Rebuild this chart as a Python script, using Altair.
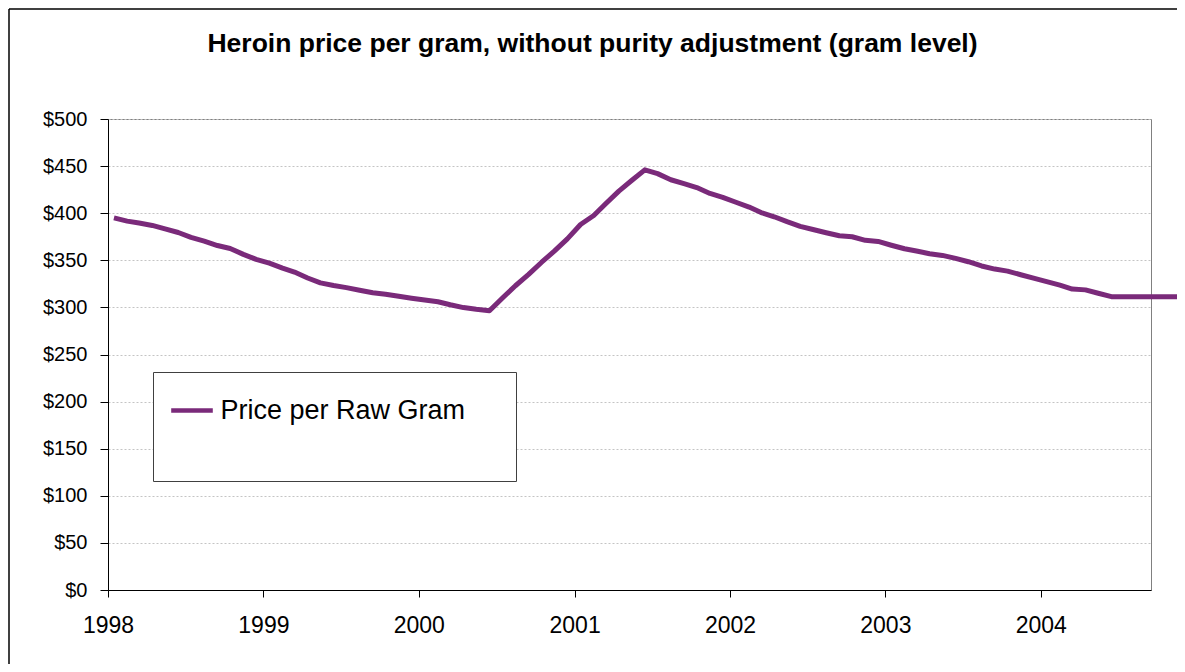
import altair as alt
import pandas as pd

# ---- data (monthly, mid-month points) ----
month_index = list(range(84))  # Jan 1998 .. Dec 2004
prices = [
    395, 391.6, 389.5, 387, 383.3, 379.5, 374.3, 370.3, 365.7, 362.5, 356.3, 351,
    347, 341.7, 337.5, 331.2, 326, 323.2, 321, 318.2, 315.5, 314, 311.9, 309.8,
    307.8, 306, 302.8, 299.8, 298, 296.5, 309.7, 323, 335, 347.7, 360, 372.7,
    388, 397.5, 410, 423.4, 434.7, 446, 442, 435.5, 431.4, 427.2, 421, 416.8,
    411.6, 406.5, 400.7, 396.2, 391, 386, 382.7, 379.3, 376, 375, 371.2, 370,
    366, 362.3, 359.8, 357, 355.2, 352, 348.5, 344, 340.7, 338.5, 334.7, 331,
    327.4, 323.7, 319.5, 318.6, 315, 311.4, 311.4, 311.4, 311.4, 311.4, 311.4, 311.4,
]
series_name = "Price per Raw Gram"
title_text = "Heroin price per gram, without purity adjustment (gram level)"
y_ticks = [0, 50, 100, 150, 200, 250, 300, 350, 400, 450, 500]
x_tick_years = [1998, 1999, 2000, 2001, 2002, 2003, 2004]

months = [f"{1998 + i // 12}-{i % 12 + 1:02d}-15T00:00:00" for i in month_index]
df = pd.DataFrame({"month": months, "price": prices, "series": series_name})
title_df = pd.DataFrame({"title": [title_text]})

FONT = "Liberation Sans"
W, H = 1043, 471
PAD_L, PAD_T, PAD_R, PAD_B = 100, 111, 26, 74
LINE_COLOR = "#7A2A7A"

x_enc = alt.X(
    "month:T",
    title=None,
    scale=alt.Scale(
        domain=[alt.DateTime(year=1998, month=1, date=1),
                alt.DateTime(year=2004, month=9, date=16)],
        nice=False,
    ),
    axis=alt.Axis(
        values=[alt.DateTime(year=y, month=1, date=1) for y in x_tick_years],
        format="%Y",
        grid=False,
        tickSize=7,
        labelPadding=17,
        labelFontSize=23,
        labelFlush=False,
    ),
)
y_enc = alt.Y(
    "price:Q",
    title=None,
    scale=alt.Scale(domain=[0, 500], nice=False),
    axis=alt.Axis(
        values=y_ticks,
        format="$.0f",
        grid=True,
        gridColor="#C4C4C4",
        gridDash=[2, 2],
        gridWidth=1,
        tickSize=8,
        labelPadding=13,
        labelFontSize=20,
    ),
)

# outer chart frame: only its top and left edges are inside the picture
frame_top = alt.Chart(title_df).mark_rule(
    color="black", strokeWidth=1.5, clip=False
).encode(x=alt.value(-PAD_L + 1), x2=alt.value(W + PAD_R), y=alt.value(-PAD_T + 1))
frame_left = alt.Chart(title_df).mark_rule(
    color="black", strokeWidth=1.5, clip=False
).encode(x=alt.value(-PAD_L + 1), y=alt.value(-PAD_T + 1), y2=alt.value(H + PAD_B))

title = alt.Chart(title_df).mark_text(
    font=FONT, fontSize=26.5, fontWeight="bold", color="black",
    align="center", baseline="alphabetic", clip=False
).encode(
    text="title:N", x=alt.value(484.5), y=alt.value(-67.3)
)

legend_box = alt.Chart(title_df).mark_rect(
    fill="white", stroke="#404040", strokeWidth=1, clip=False
).encode(
    x=alt.value(45.5), x2=alt.value(408.5), y=alt.value(253.5), y2=alt.value(362.5)
)

line = alt.Chart(df).mark_line(strokeWidth=5, clip=False, strokeJoin="round").encode(
    x=x_enc,
    y=y_enc,
    color=alt.Color(
        "series:N",
        scale=alt.Scale(domain=[series_name], range=[LINE_COLOR]),
        legend=alt.Legend(
            title=None,
            orient="none",
            legendX=60.5,
            legendY=268,
            padding=0,
            symbolType="stroke",
            symbolSize=1730,
            symbolStrokeWidth=4.5,
            labelFontSize=27,
            labelFont=FONT,
            labelColor="black",
            labelOffset=5,
            labelLimit=500,
        ),
    ),
)

chart = (
    alt.layer(frame_top, frame_left, title, legend_box, line)
    .properties(
        width=W,
        height=H,
        autosize=alt.AutoSizeParams(type="none"),
        padding={"left": PAD_L, "top": PAD_T, "right": PAD_R, "bottom": PAD_B},
    )
    .configure(background="white", font=FONT)
    .configure_view(stroke="#808080", strokeWidth=1)
    .configure_axis(
        domainColor="black",
        domainWidth=1,
        tickColor="black",
        tickWidth=1,
        labelColor="black",
        labelFont=FONT,
    )
)

chart.save("out.html", embed_options={"renderer": "svg", "actions": False})
